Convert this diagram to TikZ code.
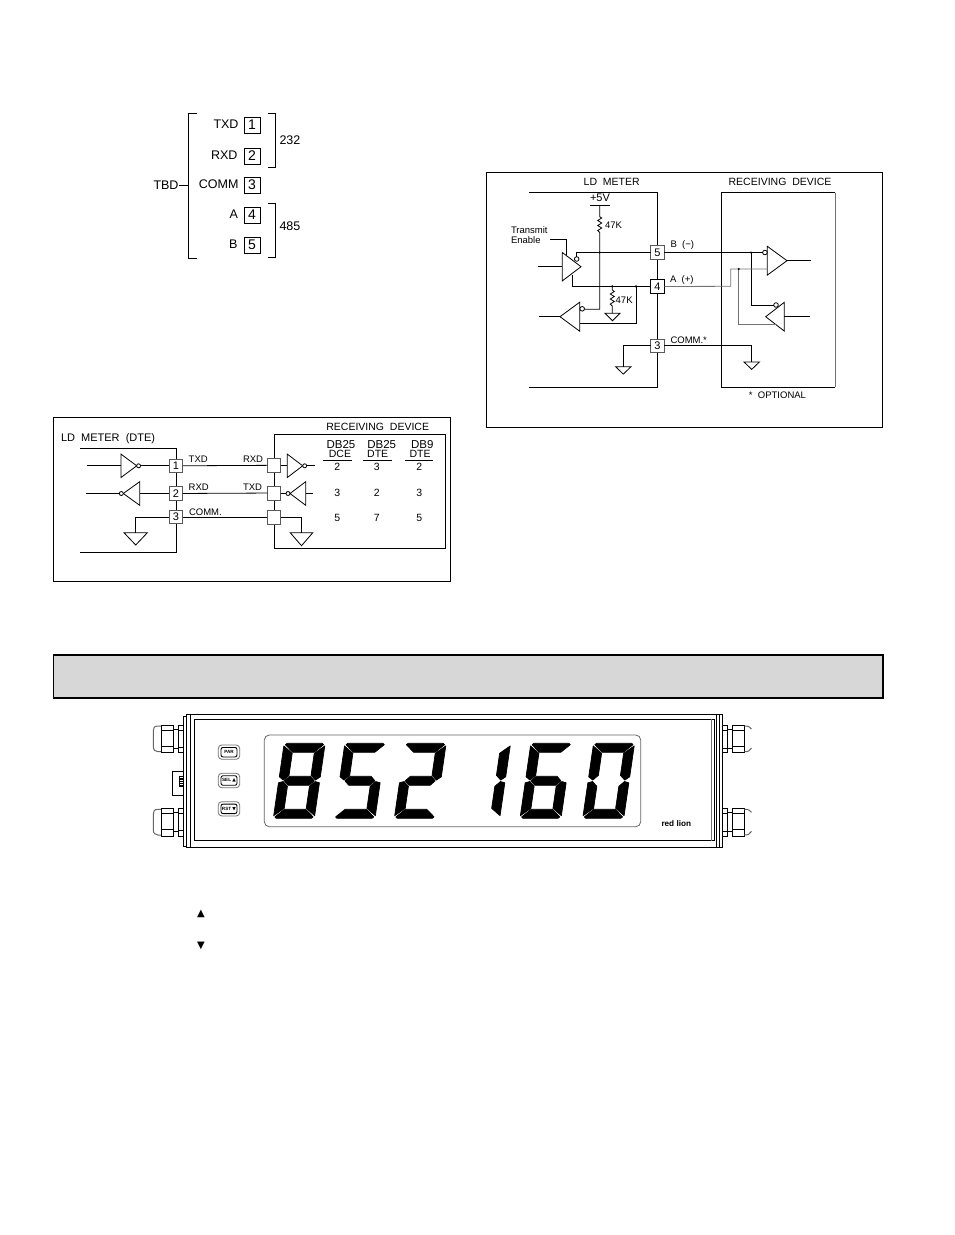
\documentclass[tikz,border=0pt]{standalone}
\usepackage{fontspec}
\setmainfont{Liberation Sans}
\newfontfamily\symbolfont{DejaVu Sans}
\usepackage{tikz}
\usetikzlibrary{positioning}
\definecolor{band}{cmyk}{0.00,0.00,0.00,0.18}
\newcommand*{\bigfont}{\fontsize{12.5}{14}\selectfont}
\newcommand*{\numfont}{\fontsize{14}{16}\selectfont}
\newcommand*{\cadfont}{\fontsize{10.5}{12}\selectfont}
\newcommand*{\smallfont}{\fontsize{9.5}{11}\selectfont}
\tikzstyle{base}=[x=1pt, y=-1pt, line width=0.8pt, inner sep=0pt, outer sep=0pt]
\tikzstyle{lbl}=[font=\bigfont]
\tikzstyle{cad}=[font=\cadfont]
\tikzstyle{tiny}=[font=\smallfont]
\tikzstyle{termbox}=[draw, font=\numfont, minimum width=16pt, minimum height=16pt]
\tikzstyle{pinbox}=[draw=black!65, font=\fontsize{11}{12}\selectfont, minimum width=13.5pt, minimum height=13.5pt]
\tikzstyle{blankbox}=[draw=black!65, minimum width=13.5pt, minimum height=14pt]
\tikzstyle{bubble}=[draw, circle, fill=white, minimum size=4.6pt]
\tikzstyle{dot}=[fill, circle, minimum size=2.4pt]
\tikzstyle{keyface}=[draw, line width=0.9pt, rounded corners=2pt, minimum width=16pt, minimum height=9.5pt, font=\bfseries\fontsize{4.6}{5}\selectfont]
% gate: name, back x, tip x, y of the tip, half height
\newcommand*{\gate}[5]{
    \coordinate (#1back) at (#2,#4);
    \coordinate (#1tip) at (#3,#4);
    \draw (#2,#4-#5) -- (#3,#4) -- (#2,#4+#5) -- cycle;
}
% ground: name, x, y of the top, half width, height
\newcommand*{\earth}[5]{
    \coordinate (#1) at (#2,#3);
    \draw (#2-#4,#3) -- (#2+#4,#3) -- (#2,#3+#5) -- cycle;
}
% display segments
\newcommand*{\sega}{(3,-75) -- (38,-75) -- (39.6,-73.6) -- (31.2,-66) -- (9.8,-66) -- (1.4,-73.6) -- cycle}
\newcommand*{\segb}{(41,-72.4) -- (41,-41.5) -- (36.5,-38.2) -- (31.5,-43) -- (31.5,-65) -- cycle}
\newcommand*{\segc}{(41,-35.5) -- (36.5,-36.8) -- (31.5,-32) -- (31.5,-10) -- (41,-2.6) -- cycle}
\newcommand*{\segd}{(3,0) -- (38,0) -- (39.6,-1.4) -- (31.2,-9) -- (9.8,-9) -- (1.4,-1.4) -- cycle}
\newcommand*{\sege}{(0,-35.5) -- (4.5,-36.8) -- (9.5,-32) -- (9.5,-10) -- (0,-2.6) -- cycle}
\newcommand*{\segf}{(0,-72.4) -- (9.5,-65) -- (9.5,-43) -- (4.5,-38.2) -- (0,-41.5) -- cycle}
\newcommand*{\segg}{(5.5,-37.5) -- (10,-42) -- (31,-42) -- (35.5,-37.5) -- (31,-33) -- (10,-33) -- cycle}
\newcommand*{\segdigit}[2]{
    \begin{scope}[shift={(#1,818.3)}, xslant=0.145, line width=0.7pt, line join=round]
        \foreach \s in {#2} {\expandafter\filldraw\csname seg\s\endcsname;}
    \end{scope}
}
% cable gland, y offset
\newcommand*{\glandleft}[1]{
    \begin{scope}[shift={(0,#1)}]
        \draw [fill=white] (161,725) rectangle (173.3,752.7);
        \draw (161,730) -- (173.3,730) (161,746.5) -- (173.3,746.5);
        \draw [fill=white] (178.3,725) rectangle (184.3,752.7);
        \draw (178.3,730) -- (184.3,730) (178.3,747) -- (184.3,747);
        \draw (173.3,729) -- (178.3,729) (173.3,748) -- (178.3,748);
        \draw [black!60] (161,726) -- (158,726) .. controls (154,726) and (153.3,728) .. (153.3,731) -- (153.3,746) .. controls (153.3,750) and (155,751.7) .. (158,751.7) -- (161,751.7);
    \end{scope}
}
\newcommand*{\glandright}[1]{
    \begin{scope}[shift={(0,#1)}]
        \draw [fill=white] (721,725) rectangle (727.3,752.7);
        \draw (721,730) -- (727.3,730) (721,748) -- (727.3,748);
        \draw [fill=white] (732.3,725) rectangle (744.3,752.7);
        \draw (732.3,730) -- (744.3,730) (732.3,746.5) -- (744.3,746.5);
        \draw (727.3,729) -- (732.3,729) (727.3,748) -- (732.3,748);
        \draw [black!60] (744.3,726) .. controls (748,726) and (750,726.5) .. (751.5,729);
        \draw [black!60] (744.3,751.7) .. controls (748,751.7) and (750,751) .. (751.5,748);
    \end{scope}
}

\begin{document}
\begin{tikzpicture}[base]
    \path [use as bounding box] (0,0) rectangle (954,1235);

    % terminal block
    \node [termbox] (term1) at (252,125) {1};
    \node [termbox] (term2) at (252,156) {2};
    \node [termbox] (term3) at (252,185) {3};
    \node [termbox] (term4) at (252,215) {4};
    \node [termbox] (term5) at (252,245) {5};
    \node [lbl, anchor=east] (txdlabel) at (238.5,124.5) {TXD};
    \node [lbl, anchor=east] (rxdlabel) at (237.5,155.5) {RXD};
    \node [lbl, anchor=east] (commlabel) at (238.5,184.5) {COMM};
    \node [lbl, anchor=east] (alabel) at (238,214.5) {A};
    \node [lbl, anchor=east] (blabel) at (237.5,244.5) {B};
    \node [lbl, anchor=east] (tbdlabel) at (178.5,185.5) {TBD};
    \node [lbl, anchor=west] (rslabel) at (279.5,140.5) {232};
    \node [lbl, anchor=west] (rsblabel) at (279.5,226) {485};
    \coordinate (tbdbracket) at (188.3,185.5);
    \draw (197,113.7) -| (188.3,258) -- (197,258);
    \draw (tbdlabel) -- (tbdbracket);
    \draw (268,113.7) -| (275.8,167) -- (268,167);
    \draw (268,203.3) -| (275.8,257) -- (268,257);

    % RS485 panel
    \draw (486,172.7) rectangle (882.7,427.7);
    \node [cad] (ldlabel) at (611.7,181.7) {LD\ \ METER};
    \node [cad] (reclabel) at (780,181.7) {RECEIVING\ \ DEVICE};
    \draw (529,192.7) -| (657.7,387.3) -- (529,387.3);
    \draw (835.3,192.7) -- (721.3,192.7) -- (721.3,387.3) -- (835.3,387.3);
    \draw [black!55] (835.3,192.7) -- (835.3,387.3);
    \node [pinbox, fill=white] (rsfive) at (657.5,252.5) {5};
    \node [pinbox, draw=black, fill=white] (rsfour) at (657.5,286.5) {4};
    \node [pinbox, fill=white] (rsthree) at (657.5,345.7) {3};
    \node [tiny, anchor=west] (bminus) at (670.5,245.5) {B\ \ (−)};
    \node [tiny, anchor=west] (aplus) at (670,280) {A\ \ (+)};
    \node [tiny, anchor=west] (commstar) at (670.5,340) {COMM.*};
    \node [tiny] (optlabel) at (777.5,395.7) {*\ \ OPTIONAL};
    % supply and resistors
    \node [tiny, font=\fontsize{11}{12}\selectfont] (plusfive) at (600,198) {+5V};
    \draw (590,205) -- (610,205);
    \node [tiny, anchor=west] (topres) at (605,225.7) {47K};
    \node [tiny, anchor=west] (lowres) at (615.7,300) {47K};
    \node [tiny, align=left, anchor=west, font=\fontsize{9.5}{10}\selectfont] (enlabel) at (511,235.5) {Transmit\\Enable};
    \draw (599.7,205) -- (599.7,216.7) -- (601.7,218) -- (597.7,220.5) -- (601.7,223) -- (597.7,225.5) -- (601.7,228) -- (597.7,230.5) -- (599.7,232.5) -- (599.7,309.3) -- (584.5,309.3);
    \draw (612.3,286.3) -- (612.3,290) -- (614.3,291.5) -- (610.3,294) -- (614.3,296.5) -- (610.3,299) -- (614.3,301.5) -- (610.3,304) -- (612.3,306) -- (612.3,313.3);
    \earth{rsgndres}{612.5}{313.3}{7.5}{7.4}
    % meter gates
    \gate{drv}{562.3}{581}{266.7}{14.2}
    \gate{rcv}{579.7}{560}{316.7}{14.5}
    \coordinate (drvin) at (538,266.7);
    \coordinate (rcvout) at (539,316.7);
    \coordinate (drvbot) at (572.3,275);
    \coordinate (enstart) at (550,239.7);
    \coordinate (enend) at (566.7,255);
    \draw (drvin) -- (drvback);
    \draw (rcvtip) -- (rcvout);
    \draw (enstart) -| (enend);
    \node [bubble] (drvbub) at (576.7,259) {};
    \node [bubble] (rcvbub) at (582.2,308.8) {};
    \draw (drvbub) |- (rsfive);
    \draw (drvbot) |- (rsfour);
    \coordinate (rcvlow) at (579.7,323.3);
    \coordinate (fourtap) at (636,286.3);
    \draw (fourtap) |- (rcvlow);
    \node [dot] (dotfive) at (599.7,252.5) {};
    \node [dot] (dotres) at (612.3,286.3) {};
    \node [dot] (dotfour) at (636,286.3) {};
    \earth{rsgndmeter}{623.3}{366.7}{7.7}{7.4}
    \draw (rsthree) -| (rsgndmeter);
    % receiver gates
    \gate{rxa}{767.3}{787}{260.7}{14.4}
    \gate{rxb}{784.3}{765.7}{316.7}{14.4}
    \coordinate (rxaout) at (810.7,260.7);
    \coordinate (rxbout) at (810,316.7);
    \draw (rxatip) -- (rxaout);
    \draw (rxbback) -- (rxbout);
    \node [bubble] (rxabub) at (764.9,252.5) {};
    \node [bubble] (rxbbub) at (776,305) {};
    \draw (rsfive) -- (rxabub);
    \coordinate (fivetap) at (751,252.5);
    \draw (fivetap) |- (rxbbub);
    \node [dot] (dotrxb) at (751,252.5) {};
    \coordinate (abend) at (730.7,286.3);
    \coordinate (rxain) at (767.3,269);
    \coordinate (atap) at (738.7,269);
    \coordinate (rxblow) at (776.7,324.7);
    \draw [black!55] (rsfour) -- (abend) |- (rxain);
    \draw [black!55] (atap) |- (rxblow);
    \node [dot] (dotrxa) at (738.7,269) {};
    \earth{rsgndrec}{751.7}{362}{7.7}{7.4}
    \draw (rsthree) -| (rsgndrec);

    % RS232 panel
    \draw (53.3,417.7) rectangle (450,581);
    \node [cad, anchor=west, font=\fontsize{11}{12}\selectfont] (dtelabel) at (61,439) {LD\ \ METER\ \ (DTE)};
    \node [cad] (rectwo) at (377.7,426.7) {RECEIVING\ \ DEVICE};
    \draw (80,448) -| (176.5,552.7) -- (80,552.7);
    \draw (274.3,548.3) |- (445,434) -- (445,548.3) -- cycle;
    \node [pinbox, fill=white] (pinone) at (176,465.8) {1};
    \node [pinbox, fill=white] (pintwo) at (176,493.5) {2};
    \node [pinbox, fill=white] (pinthree) at (176,517) {3};
    \node [blankbox, fill=white] (recone) at (274,465.3) {};
    \node [blankbox, fill=white] (rectwobox) at (274,493) {};
    \node [blankbox, fill=white] (recthree) at (274,517) {};
    \draw (pinone) -- (recone);
    \draw (pintwo) -- (rectwobox);
    \draw (pinthree) -- (recthree);
    \node [tiny, anchor=west] (txdl) at (188.7,459) {TXD};
    \node [tiny, anchor=west] (rxdl) at (188.7,487.3) {RXD};
    \node [tiny, anchor=west] (comml) at (189,512) {COMM.};
    \node [tiny, anchor=west] (rxdr) at (243,459) {RXD};
    \node [tiny, anchor=west] (txdr) at (243,487.3) {TXD};
    % meter side
    \gate{mout}{121}{136.7}{465.8}{11.7}
    \gate{min}{139.7}{123.3}{493.5}{11.8}
    \coordinate (moutin) at (86.7,465.8);
    \coordinate (minout) at (86,493.5);
    \draw (moutin) -- (moutback);
    \node [bubble, minimum size=4pt] (moutbub) at (138.6,465.8) {};
    \node [bubble, minimum size=4pt] (minbub) at (121.3,493.5) {};
    \draw (moutbub) -- (pinone);
    \draw (minout) -- (minbub);
    \draw (minback) -- (pintwo);
    \earth{gndmeter}{135.7}{532.7}{11.7}{12.3}
    \draw (pinthree) -| (gndmeter);
    % device side
    \gate{dout}{287.3}{302.7}{465.8}{11.7}
    \gate{din}{305.7}{290}{493.5}{11.8}
    \coordinate (doutend) at (315,465.8);
    \coordinate (dinend) at (313,493.5);
    \draw (recone.east |- doutback) -- (doutback);
    \node [bubble, minimum size=4pt] (doutbub) at (304.7,465.8) {};
    \node [bubble, minimum size=4pt] (dinbub) at (288,493.5) {};
    \draw (doutbub) -- (doutend);
    \draw (rectwobox.east |- dinbub) -- (dinbub);
    \draw (dinback) -- (dinend);
    \earth{gnddevice}{301.5}{532.7}{11.3}{13}
    \draw (recthree) -| (gnddevice);
    % table
    \node [cad, font=\fontsize{11.5}{12}\selectfont] (cola) at (341,444.3) {DB25};
    \node [cad, font=\fontsize{11.5}{12}\selectfont] (colb) at (381.7,444.3) {DB25};
    \node [cad, font=\fontsize{11.5}{12}\selectfont] (colc) at (422.3,444.3) {DB9};
    \node [cad] (suba) at (340,454.3) {DCE};
    \node [cad] (subb) at (377.7,454.3) {DTE};
    \node [cad] (subc) at (420,454.3) {DTE};
    \draw (322.7,460) -- (351.7,460) (363,460) -- (391.7,460) (405,460) -- (433,460);
    \foreach \nx/\nid/\one/\two/\three in {337.3/a/2/3/5, 376.7/b/3/2/7, 419.3/c/2/3/5} {
        \node [cad] (row1\nid) at (\nx,466.7) {\one};
        \node [cad] (row2\nid) at (\nx,493.3) {\two};
        \node [cad] (row3\nid) at (\nx,518.3) {\three};
    }

    % section band
    \draw [fill=band, line width=1.4pt] (53.5,655) rectangle (883,698);

    % display unit
    \begin{scope}[line width=1pt]
    \glandleft{0}
    \glandleft{83.3}
    \glandright{0}
    \glandright{83.3}
    \draw [fill=white] (172.3,771.7) rectangle (184.3,795.7);
    \fill (179,776) rectangle (183.7,786.5);
    \foreach \slot in {777.3,779.6,781.9,784.2} {
        \fill [white] (180,\slot) rectangle (182.7,\slot+1.1);
    }
    \draw [fill=white] (183.3,716) rectangle (186.7,846);
    \draw [fill=white] (719,714.3) rectangle (722.7,847.3);
    \draw [fill=white] (186.7,714.3) rectangle (719,847.3);
    \draw (190,714.3) -- (190,847.3) (194,719) -- (194,840.6);
    \draw (714,719) -- (714,840.6) (716.5,714.3) -- (716.5,847.3);
    \draw (194,719) -- (714,719) (194,840.6) -- (714,840.6);
    \draw [black!55] (711.7,719) -- (711.7,840.6);
    \end{scope}
    % keys
    \draw [black!55, rounded corners=3.5pt] (218.3,745) rectangle (239.7,759.3);
    \draw [black!55, rounded corners=3.5pt] (218.3,773.3) rectangle (239.7,787.7);
    \draw [black!55, rounded corners=3.5pt] (218.3,801.7) rectangle (239.7,816);
    \node [keyface] (keypar) at (229,752.2) {PAR};
    \node [keyface] (keysel) at (229,780.5) {SEL {\symbolfont▲}};
    \node [keyface] (keyrst) at (229,808.8) {RST {\symbolfont▼}};
    % window
    \draw [black!60, rounded corners=5pt] (264.3,735) rectangle (640.7,826.7);
    \segdigit{273.3}{a,b,c,d,e,f,g}
    \segdigit{334}{a,c,d,f,g}
    \segdigit{394.3}{a,b,d,e,g}
    \segdigit{458.7}{b,c}
    \segdigit{520}{a,c,d,e,f,g}
    \segdigit{582.7}{a,b,c,d,e,f}
    \node [font=\bfseries\fontsize{8.2}{9}\selectfont] (brandname) at (676.3,823.7) {red lion};

    % arrows in the key text
    \node [font=\symbolfont\fontsize{10}{12}\selectfont] (uparrow) at (201,914) {▲};
    \node [font=\symbolfont\fontsize{10}{12}\selectfont] (downarrow) at (201,946) {▼};
\end{tikzpicture}
\end{document}
